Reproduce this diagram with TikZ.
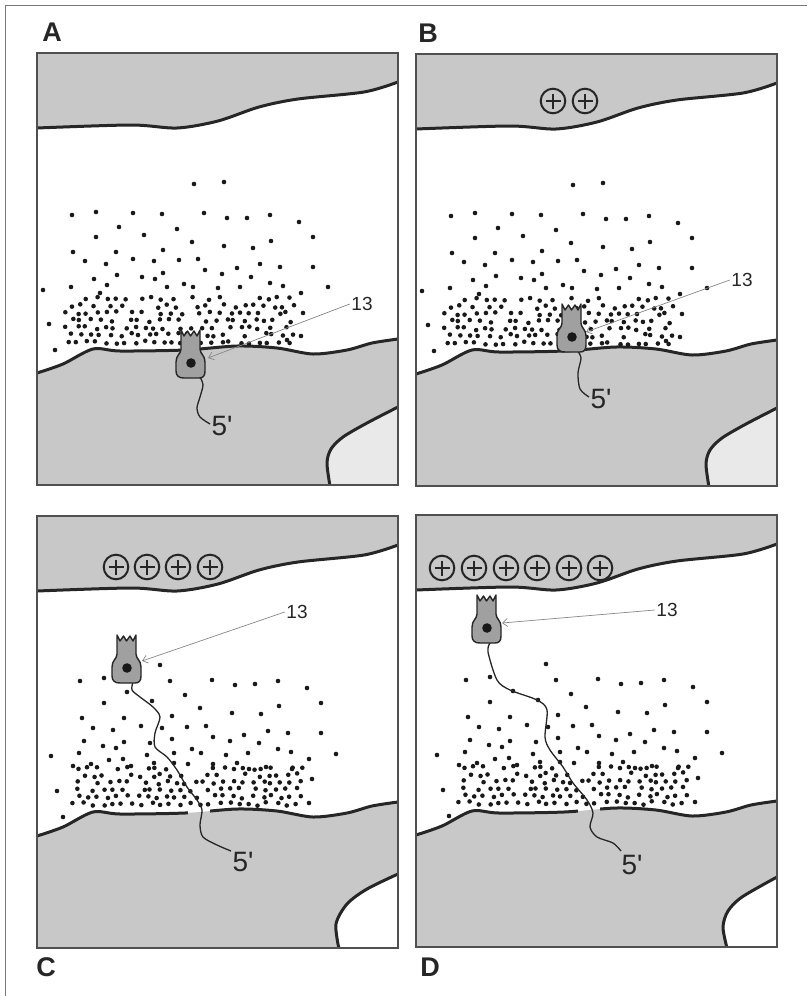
\documentclass[tikz,border=0pt]{standalone}
\usepackage{fontspec}
\setmainfont{Liberation Sans}
\usetikzlibrary{arrows.meta}

\definecolor{regiongray}{RGB}{200,200,200}
\definecolor{lobegray}{RGB}{233,233,233}
\definecolor{inkdark}{RGB}{38,38,38}
\definecolor{dotink}{RGB}{25,25,25}
\definecolor{cellgray}{RGB}{160,160,160}
\definecolor{leadergray}{RGB}{135,135,135}
\definecolor{framegray}{RGB}{80,80,80}
\definecolor{pagegray}{RGB}{120,120,120}

% one panel: upper and lower layers and the corner lobe (panel-local coordinates)
\newcommand\basin[2]{%
  \begin{scope}
    \clip (0,0) rectangle (361,432);
    \fill[regiongray] (0,0) -- plot[smooth] coordinates {(0,75) (94,72) (140,75) (181,68) (222,54) (261,46) (327,39) (361,29)} -- (361,0) -- cycle;
    \fill[regiongray] (0,432) -- plot[smooth] coordinates {(0,320) (26,311) (56,296) (83,298) (148,297) (200,293) (240,295) (276,301) (310,297) (335,290) (361,286)} -- (361,432) -- cycle;
    \fill[#1] (361,433) -- plot[smooth] coordinates {#2} -- cycle;
    \draw[boundary] plot[smooth] coordinates {(0,75) (94,72) (140,75) (181,68) (222,54) (261,46) (327,39) (361,29)};
    \draw[boundary] plot[smooth] coordinates {(0,320) (26,311) (56,296) (83,298) (148,297) (200,293) (240,295) (276,301) (310,297) (335,290) (361,286)};
    \draw[boundary] plot[smooth] coordinates {#2};
  \end{scope}}

% break in the lower boundary where the fibre passes
\newcommand\boundarygap[2]{%
  \begin{scope}
    \clip (#1,270) rectangle (#2,320);
    \fill[white] (#1,270) rectangle (#2,320);
    \fill[regiongray] (0,432) -- plot[smooth] coordinates {(0,320) (26,311) (56,296) (83,298) (148,297) (200,293) (240,295) (276,301) (310,297) (335,290) (361,286)} -- (361,432) -- cycle;
  \end{scope}}

% dense band of dots just above the lower layer
\newcommand\denseband[5]{%
  \pgfmathsetseed{#1}%
  \foreach \j in {0,...,#5}{%
    \foreach \i in {0,...,#3}{%
      \pgfmathsetmacro\bx{#2+\i*9.6+mod(\j,2)*4.8+2.6*rand}%
      \pgfmathsetmacro\by{#4-\j*7.2+1.8*rand}%
      \pgfmathtruncatemacro\keep{rnd<(1.0-0.06*\j)}%
      \ifnum\keep=1 \fill[dotink] (\bx,\by) circle (2.3);\fi
    }}}

\newcommand\sparseAB{(157,131),(187,129),(35,162),(59,159),(96,160),(125,161),(167,160),(190,165),(210,165),(233,162),(262,169),(82,174),(140,176),(276,184),(59,184),(107,182),(155,189),(187,193),(234,188),(36,199),(79,199),(126,197),(216,195),(48,208),(69,211),(96,206),(117,208),(142,207),(161,206),(223,211),(243,214),(276,214),(57,226),(80,222),(105,224),(126,220),(168,217),(185,221),(200,215),(214,224),(6,237),(34,234),(63,240),(70,232),(118,226),(130,234),(147,231),(156,234),(181,235),(203,234),(233,230),(246,233),(264,240),(291,234),(266,260),(264,283),(12,271),(18,297),(250,287)}

\newcommand\sparseCD{(123,149),(43,165),(67,162),(133,165),(175,164),(198,169),(218,168),(241,165),(270,172),(90,176),(148,179),(67,187),(115,185),(163,192),(195,197),(224,198),(242,190),(284,187),(45,202),(87,202),(135,200),(56,212),(76,214),(104,210),(125,212),(150,211),(169,210),(231,215),(251,217),(284,217),(47,225),(66,230),(87,226),(113,227),(135,223),(176,221),(193,225),(207,219),(222,227),(14,240),(42,237),(79,232),(110,239),(137,237),(155,233),(164,237),(189,239),(211,237),(241,233),(254,236),(272,243),(299,238),(36,250),(54,248),(72,244),(86,243),(94,250),(117,247),(137,247),(151,248),(176,248),(200,247),(212,253),(229,251),(255,253),(275,263),(20,275),(26,301),(272,287)}

\tikzset{
  boundary/.style={draw=inkdark, line width=3pt},
  panelframe/.style={draw=framegray, line width=1.2pt},
  fiber/.style={draw=inkdark, line width=1.3pt},
  leader/.style={draw=leadergray, line width=0.7pt,
    -{Straight Barb[length=5pt,width=8pt,line width=0.7pt]}},
  num/.style={font=\fontsize{19}{19}\selectfont, text=inkdark, inner sep=1.5pt},
  prime/.style={font=\fontsize{28}{28}\selectfont, text=inkdark, inner sep=0pt},
  paneltag/.style={font=\bfseries\fontsize{27}{27}\selectfont, text=inkdark, inner sep=0pt},
  charge/.pic={
    \draw[inkdark, line width=2pt] (0,0) circle (12.3);
    \draw[inkdark, line width=2.2pt] (-7.5,0) -- (7.5,0) (0,-7.5) -- (0,7.5);
  },
  cell/.pic={
    \draw[inkdark, line width=1.4pt, fill=cellgray, line join=round]
      (-10,-33) -- (-10,-14) .. controls (-10,-9) and (-15,-8) .. (-15,-1)
      -- (-15,8) .. controls (-15,13) and (-12,15) .. (-7,15)
      -- (8,15) .. controls (12,15) and (14,13) .. (14,8)
      -- (14,-1) .. controls (14,-8) and (9,-9) .. (9,-14)
      -- (9,-33) -- (6,-27) -- (3,-32) -- (-0.5,-27) -- (-3.5,-32) -- (-7,-27) -- cycle;
    \fill[dotink] (0,0) circle (4.8);
  }
}

\begin{document}
\begin{tikzpicture}[x=1pt,y=-1pt]
\useasboundingbox (0,0) rectangle (807,996);

% page edge
\draw[pagegray, line width=0.8pt] (5,996) -- (5,5) -- (807,5);

% ---------- A ----------
\begin{scope}[shift={(37,53)}]
  \basin{lobegray}{(293,433) (290,410) (294,396) (306,384) (330,370) (361,354)}
  \foreach \p in \sparseAB {\fill[dotink] \p circle (2.3);}
  \denseband{11}{30}{23}{289}{6}
  \draw[panelframe] (0,0) rectangle (361,432);
\end{scope}
\node[paneltag] (tagA) at (52,32) {A};
\coordinate (cellA) at (191,363);
\draw[fiber] plot[smooth] coordinates {(200,377) (203,385) (200,397) (197,408) (200,417) (210,424)};
\pic at (cellA) {cell};
\node[prime] (endA) at (222,426) {5\textquotesingle};
\node[num] (numA) at (362,304) {13};
\coordinate (tipA) at (208,358);
\draw[leader] (numA.west) -- (tipA);

% ---------- B ----------
\begin{scope}[shift={(416,54)}]
  \basin{lobegray}{(293,433) (290,410) (294,396) (306,384) (330,370) (361,354)}
  \foreach \p in \sparseAB {\fill[dotink] \p circle (2.3);}
  \denseband{11}{30}{23}{289}{6}
  \draw[panelframe] (0,0) rectangle (361,432);
\end{scope}
\node[paneltag] (tagB) at (428,33) {B};
\pic at (553,101) {charge};
\pic at (585,101) {charge};
\coordinate (cellB) at (572,337);
\draw[fiber] plot[smooth] coordinates {(577,350) (581,358) (578,373) (580,389) (589,397)};
\pic at (cellB) {cell};
\node[prime] (endB) at (601,399) {5\textquotesingle};
\node[num] (numB) at (742,280) {13};
\coordinate (tipB) at (586,332);
\draw[leader] (numB.west) -- (tipB);

% ---------- C ----------
\begin{scope}[shift={(37,516)}]
  \basin{white}{(302,433) (299,408) (310,388) (330,373) (361,358)}
  \boundarygap{151}{173}
  \foreach \p in \sparseCD {\fill[dotink] \p circle (2.3);}
  \denseband{23}{38}{23}{288}{5}
  \draw[panelframe] (0,0) rectangle (361,432);
\end{scope}
\node[paneltag] (tagC) at (46,967) {C};
\pic at (116,567) {charge};
\pic at (147,567) {charge};
\pic at (178,567) {charge};
\pic at (210,567) {charge};
\coordinate (cellC) at (127,668);
\draw[fiber] plot[smooth] coordinates {(133,682) (132,690) (140,697) (153,707) (160,717) (155,733) (155,747) (167,757) (177,770) (187,787) (197,800) (202,810) (200,825) (203,837) (217,845) (231,851)};
\pic at (cellC) {cell};
\node[prime] (endC) at (243,862) {5\textquotesingle};
\node[num] (numC) at (297,612) {13};
\coordinate (tipC) at (142,661);
\draw[leader] (numC.west) -- (tipC);

% ---------- D ----------
\begin{scope}[shift={(416,515)}]
  \basin{white}{(311,433) (307,412) (312,396) (326,382) (361,362)}
  \boundarygap{162}{184}
  \begin{scope}[shift={(7,0)}]
    \foreach \p in \sparseCD {\fill[dotink] \p circle (2.3);}
    \denseband{23}{38}{23}{288}{5}
  \end{scope}
  \draw[panelframe] (0,0) rectangle (361,432);
\end{scope}
\node[paneltag] (tagD) at (430,967) {D};
\pic at (442,568) {charge};
\pic at (474,568) {charge};
\pic at (506,568) {charge};
\pic at (537,568) {charge};
\pic at (569,568) {charge};
\pic at (600,568) {charge};
\coordinate (cellD) at (487,628);
\draw[fiber] plot[smooth] coordinates {(490,643) (488,652) (497,680) (510,690) (537,700) (547,710) (545,737) (550,750) (563,767) (573,783) (587,800) (593,813) (590,827) (597,837) (613,843) (621,851)};
\pic at (cellD) {cell};
\node[prime] (endD) at (632,865) {5\textquotesingle};
\node[num] (numD) at (667,610) {13};
\coordinate (tipD) at (502,623);
\draw[leader] (numD.west) -- (tipD);

\end{tikzpicture}
\end{document}
